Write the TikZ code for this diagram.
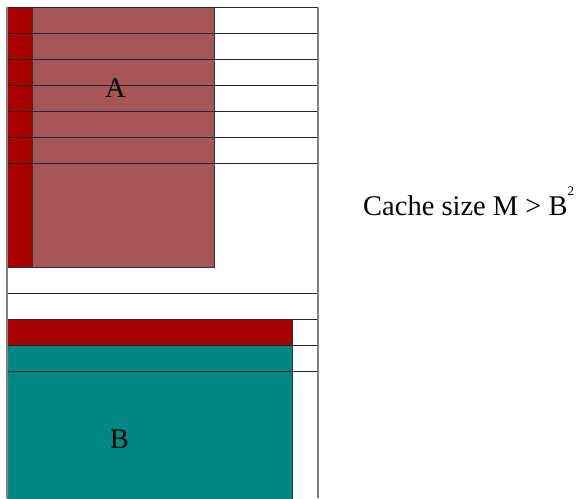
\documentclass[tikz,border=0pt]{standalone}
\usepackage{fontspec}
\setmainfont{Liberation Serif}
\definecolor{stripred}{HTML}{A60000}
\definecolor{arose}{HTML}{A65656}
\definecolor{bteal}{HTML}{008886}
\definecolor{framegray}{HTML}{808080}
\begin{document}
\begin{tikzpicture}[x=1pt,y=-1pt,
  rowline/.style={draw=black!85,line width=1pt},
  frameline/.style={draw=framegray,line width=2pt},
  blockedge/.style={draw=black!80,line width=1pt},
  lbl/.style={inner sep=0pt,anchor=base,font=\fontsize{28.5}{32}\selectfont}]
\useasboundingbox (0,0) rectangle (583,498);
% blocks
\fill[arose] (32,7) rectangle (214,267);
\draw[blockedge] (32,7) rectangle (214,267);
\fill[stripred] (7,7) rectangle (32,267);
\draw[blockedge] (7,7) rectangle (32,267);
\fill[bteal] (7,345) rectangle (292,500);
\draw[blockedge] (292,345) -- (292,500);
\fill[stripred] (7,319) rectangle (292,345);
\draw[blockedge] (7,319) rectangle (292,345);
% row lines
\foreach \yy in {7,33,59,85,111,137,163,293,319,345,371}
  \draw[rowline] (7,\yy) -- (318,\yy);
% frame
\draw[frameline] (7,7) -- (7,498);
\draw[frameline] (318,7) -- (318,498);
% labels
\node[lbl] (la) at (115.5,97) {A};
\node[lbl] (lb) at (119.5,448) {B};
\node[lbl,anchor=base west] (cache) at (363,215) {Cache size M > B\raisebox{20pt}{\fontsize{13}{13}\selectfont 2}};
\end{tikzpicture}
\end{document}
